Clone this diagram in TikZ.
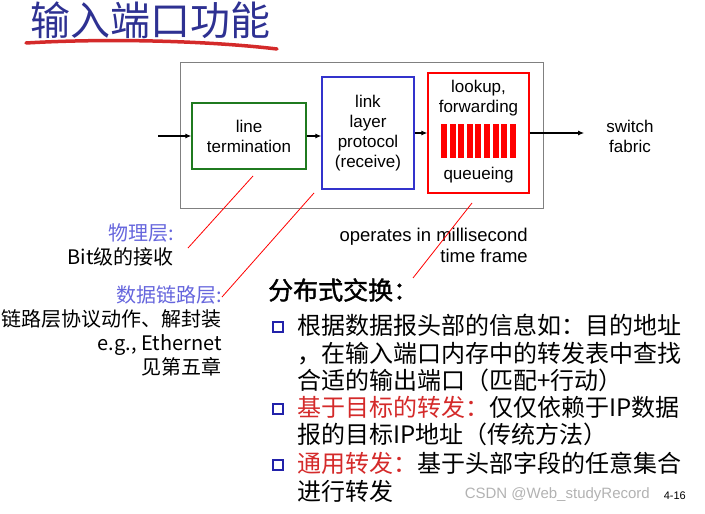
\documentclass[tikz,border=0pt]{standalone}
\usepackage{fontspec}
\setmainfont{Liberation Sans}
\newfontfamily\cjk{Noto Sans CJK SC}
\newfontfamily\cjkbold[FakeBold=1.5]{Noto Sans CJK SC}
\usetikzlibrary{positioning,arrows.meta}
\definecolor{titleblue}{HTML}{2E3192}
\definecolor{ltgreen}{HTML}{1F7A1F}
\definecolor{llblue}{HTML}{3333CC}
\definecolor{layer}{HTML}{6666DD}
\definecolor{hot}{HTML}{D42A2A}
\definecolor{bulletc}{HTML}{2222AA}
\begin{document}
\begin{tikzpicture}[x=1pt,y=-1pt,
	box/.style={draw,line width=1.2pt,inner sep=0pt},
	lbl/.style={font=\fontsize{17}{20}\selectfont,align=center,inner sep=0pt},
	link/.style={-{Latex[length=6pt,width=5pt]},line width=1.3pt},
	hint/.style={red,line width=0.8pt},
	side/.style={anchor=north east,align=right,inner sep=0pt,font=\cjk\fontsize{20}{24}\selectfont},
	para/.style={anchor=north west,align=left,inner sep=0pt,font=\cjk\fontsize{24}{27.5}\selectfont}]
	\useasboundingbox (0,0) rectangle (705,514);
	
	\node[anchor=west,inner sep=0pt,text=titleblue,font=\cjk\fontsize{40}{40}\selectfont] (title) at (30,20) {输入端口功能};
	\draw[hot,line width=3.5pt,line cap=round] (26,43) .. controls (110,38) and (210,41) .. (277,49);
	
	\node[box,draw=gray,line width=1pt,minimum width=363,minimum height=146] (port) at (361.5,135) {};
	\node[box,draw=ltgreen,minimum width=114,minimum height=66,lbl] (term) at (249,136) {line\\termination};
	\node[box,draw=llblue,minimum width=92,minimum height=112,lbl] (llp) at (368,133) {link\\layer\\protocol\\(receive)};
	\node[box,draw=red,minimum width=101,minimum height=120] (fwd) at (478.5,133) {};
	\node[lbl,below=8pt of fwd.north] (look) {lookup,\\forwarding};
	\node[lbl,above=10pt of fwd.south] (que) {queueing};
	\foreach \i in {0,...,8}
		\fill[red] (441+\i*8.6,124) rectangle ++(6,34);
	\node[lbl] (fabric) at (630,136) {switch\\fabric};
	
	\coordinate (src) at (158,136);
	\draw[link] (src) -- (term);
	\draw[link] (term.east) -- (term.east -| llp.west);
	\draw[link] (llp.east) -- (llp.east -| fwd.west);
	\draw[link,shorten >=22pt] (fwd.east) -- (fwd.east -| fabric.west);
	
	\node[side] (phy) at (174,223) {\textcolor{layer}{物理层:}\\Bit级的接收};
	\node[side] (dll) at (222,285) {\textcolor{layer}{数据链路层:}\\链路层协议动作、解封装\\e.g., Ethernet\\见第五章};
	\node[anchor=north east,align=right,inner sep=0pt,font=\fontsize{18.5}{21}\selectfont] (ms) at (528,228) {operates in millisecond\\time frame};
	
	\coordinate (phyend) at (188,248);
	\coordinate (dllend) at (222,297);
	\coordinate (msend) at (413,278);
	\draw[hint] (253,176) -- (phyend);
	\draw[hint] (314,193) -- (dllend);
	\draw[hint] (472,203) -- (msend);
	
	\node[anchor=west,inner sep=0pt,font=\cjkbold\fontsize{25}{28}\selectfont] (dist) at (268,290) {分布式交换：};
	\node[para] (b1) at (297,314) {根据数据报头部的信息如：目的地址\\，在输入端口内存中的转发表中查找\\合适的输出端口（匹配+行动）};
	\node[para] (b2) at (297,396) {\textcolor{hot}{基于目标的转发：}仅仅依赖于IP数据\\报的目标IP地址（传统方法）};
	\node[para] (b3) at (297,452) {\textcolor{hot}{通用转发：}基于头部字段的任意集合\\进行转发};
	\foreach \y in {327,409,465}
		\draw[bulletc,line width=1.6pt] (273,\y-5) rectangle ++(10,10);
	
	\node[anchor=east,inner sep=0pt,text=gray!60,font=\fontsize{15}{15}\selectfont] (mark) at (650,495) {CSDN @Web\_studyRecord};
	\node[anchor=east,inner sep=0pt,font=\fontsize{11}{11}\selectfont] (page) at (686,496) {4-16};
\end{tikzpicture}
\end{document}
